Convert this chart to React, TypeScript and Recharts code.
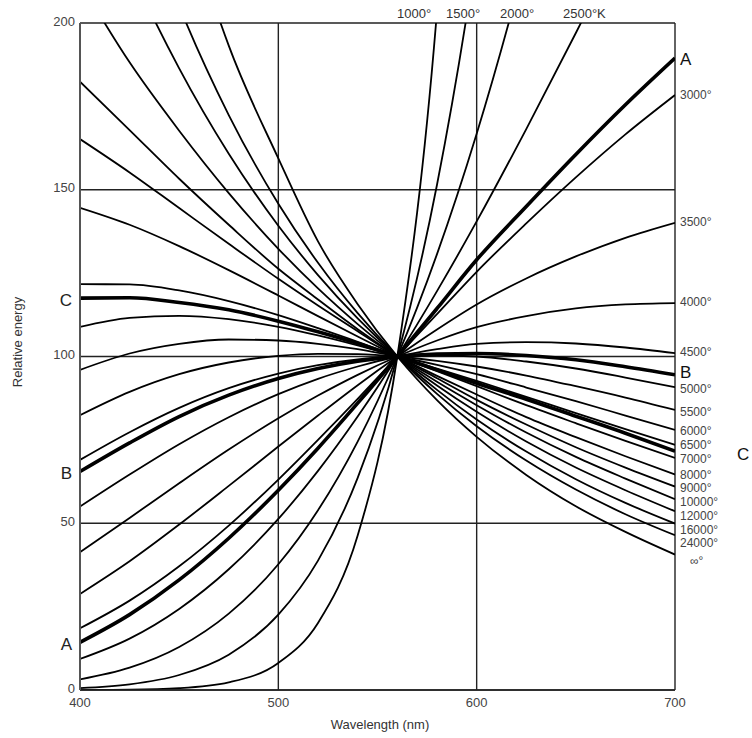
import { CartesianGrid, LabelList, Line, LineChart, XAxis, YAxis } from 'recharts';

// wavelengths (nm) sampled for every curve
const WAVELENGTHS = [400, 425, 450, 475, 500, 520, 540, 560, 580, 600, 625, 650, 675, 700];

// relative energy, normalised to 100 at 560 nm
const K1000 = [0.02, 0.11, 0.56, 2.3, 8.1, 20.1, 46.3, 100, 203.5, 393, 836, 1666, 3130, 5590];
const K1500 = [0.57, 1.7, 4.5, 10.6, 22.6, 38.8, 63.6, 100, 151.5, 221.9, 343, 509, 727, 1008];
const K2000 = [3.2, 6.7, 12.9, 22.9, 37.7, 53.9, 74.5, 100, 130.7, 166.8, 219.7, 281, 351, 428];
const K2500 = [9.3, 15.4, 24.3, 36.2, 51.3, 65.7, 82.0, 100, 119.6, 140.5, 168.2, 197, 226.4, 256];
const ILL_A = [14.3, 22.6, 33.0, 45.5, 59.9, 72.5, 86.0, 100, 114.4, 129.0, 145.0, 160.6, 175.5, 189.5];
const K3000 = [18.5, 26.8, 37.1, 49.3, 63.1, 75.0, 87.3, 100, 112.7, 125.4, 139.9, 153.7, 166.6, 178.4];
const K3500 = [28.8, 38.6, 49.6, 61.2, 73.0, 82.3, 91.4, 100, 108.1, 115.6, 123.4, 130.0, 135.6, 140.1];
const K4000 = [41.3, 51.6, 62.0, 72.1, 81.5, 88.3, 94.5, 100, 104.8, 108.8, 112.1, 114.4, 115.6, 116.0];
const K4500 = [55.0, 64.6, 73.7, 81.8, 88.7, 93.3, 97.0, 100, 102.2, 103.8, 104.3, 103.9, 102.7, 101.0];
const ILL_B = [65.5, 74.1, 82.0, 88.4, 93.4, 96.4, 98.6, 100, 100.7, 100.9, 100.3, 99.0, 96.9, 94.5];
const K5000 = [69.0, 77.3, 84.6, 90.5, 94.9, 97.4, 99.1, 100, 100.3, 100.0, 98.5, 96.4, 93.7, 90.8];
const K5500 = [82.4, 89.4, 94.7, 98.2, 100.2, 100.8, 100.7, 100, 98.7, 97.0, 94.3, 91.1, 87.7, 84.0];
const K6000 = [96.0, 100.9, 103.8, 105.1, 104.8, 103.8, 102.2, 100, 97.5, 94.7, 90.7, 86.6, 82.3, 78.0];
const K6500 = [108.9, 111.6, 112.2, 111.2, 108.9, 106.3, 103.3, 100, 96.4, 92.7, 87.9, 83.0, 78.2, 73.5];
const ILL_C = [117.5, 117.6, 116.2, 114.0, 110.6, 107.4, 103.9, 100, 96.0, 92.0, 87.2, 82.1, 77.0, 71.6];
const K7000 = [121.7, 121.6, 119.8, 116.6, 112.4, 108.5, 104.4, 100, 95.6, 91.1, 85.4, 80.0, 74.7, 69.6];
const K8000 = [144.6, 139.5, 133.1, 125.9, 118.3, 112.1, 106.0, 100, 94.2, 88.6, 81.8, 75.8, 70.1, 64.6];
const K9000 = [165.2, 155.2, 144.5, 133.8, 123.3, 115.3, 107.6, 100, 93.5, 87.0, 79.6, 72.8, 66.7, 61.0];
const K10000 = [182.4, 167.9, 153.3, 139.5, 126.3, 117.1, 108.2, 100, 92.4, 85.4, 77.2, 69.9, 63.4, 57.2];
const K12000 = [212.2, 188.2, 167.7, 149.0, 132.3, 120.4, 109.7, 100, 91.3, 83.4, 74.5, 66.7, 59.9, 53.6];
const K16000 = [252.8, 216.7, 186.4, 160.8, 139.2, 124.4, 111.4, 100, 90.0, 81.1, 71.5, 63.2, 56.1, 49.9];
const K24000 = [296.6, 245.7, 205.1, 172.4, 145.8, 128.1, 113.0, 100, 88.8, 79.1, 68.8, 60.1, 52.7, 46.4];
const K_INF = [384.2, 301.4, 239.8, 193.2, 159.4, 134.5, 115.7, 100, 86.9, 75.9, 64.5, 55.1, 47.4, 40.6];

const X_TICKS = [400, 500, 600, 700];
const Y_TICKS = [0, 50, 100, 150, 200];
const TOP_LABELS = ['1000°', '1500°', '2000°', '2500°K'];
const TOP_LABEL_X = [397, 446, 500, 563];

type Curve = {
  key: string;
  values: number[];
  end?: string;
  left?: string;
  bold?: boolean;
  dy?: number;
  dx?: number;
  big?: boolean;
};

const CURVES: Curve[] = [
  { key: 'k1000', values: K1000 },
  { key: 'k1500', values: K1500 },
  { key: 'k2000', values: K2000 },
  { key: 'k2500', values: K2500 },
  { key: 'illA', values: ILL_A, bold: true, end: 'A', left: 'A', big: true, dy: 2 },
  { key: 'k3000', values: K3000, end: '3000°', dy: 1 },
  { key: 'k3500', values: K3500, end: '3500°' },
  { key: 'k4000', values: K4000, end: '4000°' },
  { key: 'k4500', values: K4500, end: '4500°' },
  { key: 'illB', values: ILL_B, bold: true, end: 'B', left: 'B', big: true, dy: -1 },
  { key: 'k5000', values: K5000, end: '5000°', dy: 3 },
  { key: 'k5500', values: K5500, end: '5500°', dy: 3 },
  { key: 'k6000', values: K6000, end: '6000°', dy: 2 },
  { key: 'k6500', values: K6500, end: '6500°', dy: 1 },
  { key: 'illC', values: ILL_C, bold: true, end: 'C', left: 'C', big: true, dx: 57, dy: 4 },
  { key: 'k7000', values: K7000, end: '7000°', dy: 2 },
  { key: 'k8000', values: K8000, end: '8000°', dy: 1 },
  { key: 'k9000', values: K9000, end: '9000°', dy: 2 },
  { key: 'k10000', values: K10000, end: '10000°', dy: 4 },
  { key: 'k12000', values: K12000, end: '12000°', dy: 6 },
  { key: 'k16000', values: K16000, end: '16000°', dy: 7 },
  { key: 'k24000', values: K24000, end: '24000°', dy: 9 },
  { key: 'kInf', values: K_INF, end: '∞°', dy: 7, dx: 10 },
];

const data = WAVELENGTHS.map((w, i) => {
  const row: Record<string, number> = { w };
  CURVES.forEach((c) => {
    row[c.key] = c.values[i];
  });
  return row;
});

const FONT = '"Liberation Sans", Arial, sans-serif';
const LAST = WAVELENGTHS.length - 1;

// curve names at the right end, illuminant letters at the left end
function endLabel(curve: Curve) {
  return (props: any) => {
    const { x, y, index } = props;
    if (index === LAST && curve.end) {
      return (
        <text
          x={x + 5 + (curve.dx ?? 0)}
          y={y + (curve.dy ?? 0)}
          dominantBaseline="middle"
          fontFamily={FONT}
          fontSize={curve.big ? 17 : 12}
          fill={curve.big ? '#111' : '#444'}
        >
          {curve.end}
        </text>
      );
    }
    if (index === 0 && curve.left) {
      return (
        <text x={x - 8} y={y + 3} textAnchor="end" dominantBaseline="middle" fontFamily={FONT} fontSize={17} fill="#222">
          {curve.left}
        </text>
      );
    }
    return null;
  };
}

export default function App() {
  return (
    <div style={{ position: 'absolute', left: 0, top: 0, width: 752, height: 738, background: '#fff' }}>
      <LineChart width={752} height={738} data={data} margin={{ top: 23, right: 77, bottom: 18, left: 40 }}>
        <CartesianGrid stroke="#222" strokeWidth={1.4} />
        <XAxis
          dataKey="w"
          type="number"
          domain={[400, 700]}
          ticks={X_TICKS}
          allowDataOverflow
          height={30}
          tickLine={false}
          tickSize={0}
          tickMargin={8}
          axisLine={{ stroke: '#222', strokeWidth: 1.6 }}
          tick={{ fill: '#444', fontSize: 13, fontFamily: FONT }}
        />
        <YAxis
          type="number"
          domain={[0, 200]}
          ticks={Y_TICKS}
          allowDataOverflow
          width={40}
          tickLine={false}
          tickSize={0}
          tickMargin={5}
          axisLine={{ stroke: '#555', strokeWidth: 2 }}
          tick={{ fill: '#444', fontSize: 13, fontFamily: FONT, dy: -2 }}
        />
        {CURVES.map((c) => (
          <Line
            key={c.key}
            dataKey={c.key}
            type="monotone"
            dot={false}
            stroke="#000"
            strokeWidth={c.bold ? 3.6 : 1.8}
            isAnimationActive={false}
          >
            {(c.end || c.left) && <LabelList dataKey={c.key} content={endLabel(c)} />}
          </Line>
        ))}
      </LineChart>
      <svg width={752} height={738} style={{ position: 'absolute', left: 0, top: 0, pointerEvents: 'none' }}>
        {TOP_LABELS.map((t, i) => (
          <text key={t} x={TOP_LABEL_X[i]} y={18} fontFamily={FONT} fontSize={13} fill="#333">
            {t}
          </text>
        ))}
        <text x={380} y={729} textAnchor="middle" fontFamily={FONT} fontSize={13} fill="#333">
          Wavelength (nm)
        </text>
        <text x={22} y={342} textAnchor="middle" transform="rotate(-90 22 342)" fontFamily={FONT} fontSize={13} fill="#333">
          Relative energy
        </text>
      </svg>
    </div>
  );
}
